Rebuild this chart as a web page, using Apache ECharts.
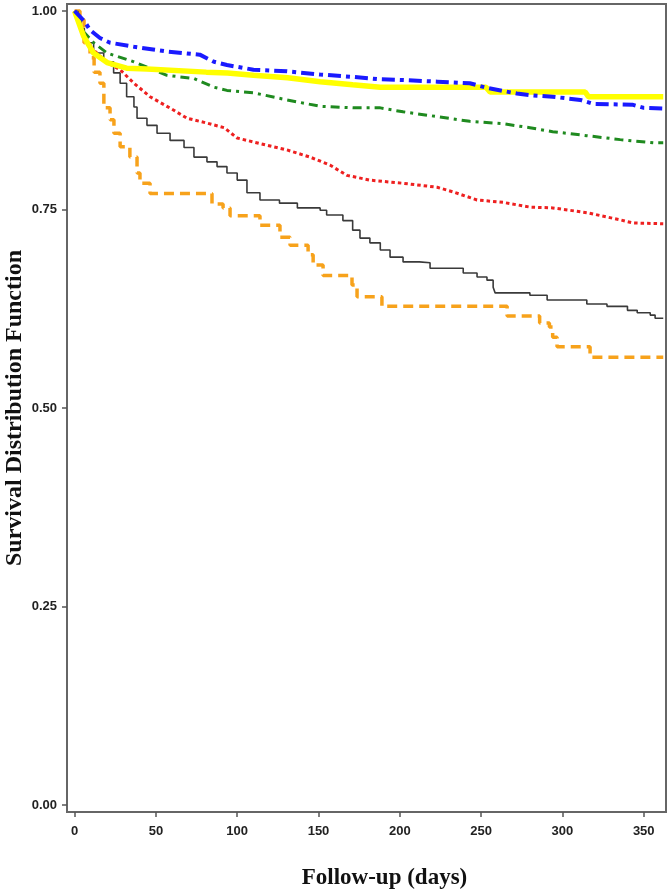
<!DOCTYPE html>
<html>
<head>
<meta charset="utf-8">
<script src="https://cdn.jsdelivr.net/npm/echarts@6/dist/echarts.min.js"></script>
<style>
html,body{margin:0;padding:0;background:#fff;}
#chart{width:669px;height:890px;}
</style>
</head>
<body>
<div id="chart"></div>
<script>
// ---- data ----
var xTicks = [0, 50, 100, 150, 200, 250, 300, 350];
var yTicks = [0, 0.25, 0.5, 0.75, 1.0];

var blueDays = [0, 6.4, 9.5, 15.6, 21.8, 36.5, 56.8, 77, 85.7, 93.7, 110, 130.6, 151, 171, 188, 202, 223, 243, 254, 272, 280, 294, 311, 319, 343, 350, 362];
var blueVals = [1.0, 0.986, 0.976, 0.966, 0.960, 0.955, 0.949, 0.945, 0.936, 0.932, 0.926, 0.924, 0.920, 0.917, 0.914, 0.913, 0.911, 0.909, 0.903, 0.896, 0.894, 0.892, 0.888, 0.883, 0.882, 0.878, 0.877];

var yellowDays = [0, 5.6, 11.7, 20, 32, 44.5, 81, 94, 110, 131, 151, 171, 188, 253, 255.5, 314, 316, 362];
var yellowVals = [1.0, 0.968, 0.947, 0.935, 0.928, 0.927, 0.923, 0.922, 0.919, 0.916, 0.911, 0.907, 0.904, 0.904, 0.898, 0.898, 0.892, 0.892];

var greenDays = [0, 5, 11.7, 20, 36.5, 56.8, 73.4, 85.7, 93.7, 110, 130.6, 151, 171, 188, 202, 223, 243, 263.5, 280, 294, 315, 335.5, 356, 362];
var greenVals = [1.0, 0.975, 0.960, 0.947, 0.936, 0.919, 0.915, 0.904, 0.900, 0.897, 0.888, 0.880, 0.878, 0.878, 0.873, 0.867, 0.861, 0.858, 0.853, 0.848, 0.843, 0.838, 0.834, 0.834];

var redDays = [0, 4, 9.5, 20, 28, 36.5, 46.4, 61, 69, 81, 92, 100, 110, 130.6, 144.8, 157, 167.5, 181.6, 202, 223, 233, 247.5, 263.5, 280, 294, 315, 335.5, 343.5, 362];
var redVals = [1.0, 0.975, 0.955, 0.935, 0.926, 0.909, 0.892, 0.875, 0.865, 0.859, 0.853, 0.840, 0.835, 0.825, 0.816, 0.806, 0.793, 0.787, 0.783, 0.778, 0.772, 0.762, 0.759, 0.753, 0.752, 0.746, 0.737, 0.733, 0.732];

var grayDays = [0, 2, 4, 6, 7.6, 11.7, 17.9, 24, 28, 32, 36.5, 38.4, 44.5, 50.7, 58.7, 67.3, 73.4, 81.4, 87.6, 93.7, 100, 106, 114, 126, 137, 151, 155, 165, 171, 175.5, 181.6, 188, 194, 202, 212, 218.6, 239, 247.5, 253.6, 257.4, 258.6, 280, 290.6, 315, 327.4, 340, 346, 354, 357, 362];
var grayVals = [1.0, 0.99, 0.978, 0.968, 0.960, 0.947, 0.936, 0.922, 0.909, 0.892, 0.879, 0.865, 0.856, 0.846, 0.837, 0.828, 0.816, 0.810, 0.804, 0.796, 0.787, 0.771, 0.762, 0.758, 0.752, 0.749, 0.743, 0.736, 0.724, 0.714, 0.708, 0.699, 0.690, 0.684, 0.683, 0.676, 0.670, 0.665, 0.661, 0.652, 0.645, 0.642, 0.636, 0.631, 0.628, 0.623, 0.620, 0.617, 0.613, 0.613];

var orangeDays = [0, 3.3, 5.8, 9.5, 12, 15.6, 18, 21.8, 24.2, 28, 34, 38.4, 40.2, 46.4, 84.5, 91.3, 95.6, 114, 126.3, 132.5, 143.6, 146.7, 152.8, 170.6, 173.7, 189, 266, 286, 292, 294, 296.7, 317, 362];
var orangeVals = [1.0, 0.989, 0.960, 0.941, 0.923, 0.909, 0.878, 0.863, 0.846, 0.829, 0.816, 0.796, 0.783, 0.770, 0.757, 0.752, 0.742, 0.730, 0.715, 0.705, 0.693, 0.680, 0.667, 0.655, 0.640, 0.628, 0.616, 0.607, 0.602, 0.589, 0.577, 0.564, 0.564];

function pairs(xs, ys) {
  var out = [];
  for (var i = 0; i < xs.length; i++) out.push([xs[i], ys[i]]);
  return out;
}

var chart = echarts.init(document.getElementById('chart'), null, {renderer: 'canvas'});

var labelStyle = {
  fontFamily: 'Liberation Sans, Arial, sans-serif',
  fontWeight: 'bold',
  fontSize: 13,
  color: '#222'
};

chart.setOption({
  animation: false,
  backgroundColor: '#ffffff',
  grid: {
    left: 67, right: 3, top: 4, bottom: 78,
    containLabel: false,
    outerBoundsMode: 'none',
    show: true, borderColor: '#666', borderWidth: 2, backgroundColor: 'transparent'
  },
  xAxis: {
    type: 'value',
    min: -4.67,
    max: 363.7,
    name: 'Follow-up (days)',
    nameLocation: 'middle',
    nameGap: 55,
    nameMoveOverlap: false,
    nameTextStyle: {
      fontFamily: 'Liberation Serif, Times New Roman, serif',
      fontWeight: 'bold',
      fontSize: 23,
      color: '#111',
      padding: [0, 0, 0, 36]
    },
    axisLine: {show: true, onZero: false, lineStyle: {color: '#666', width: 2}},
    axisTick: {show: true, inside: false, length: 5, customValues: xTicks, lineStyle: {color: '#555', width: 1.5}},
    axisLabel: Object.assign({margin: 13, customValues: xTicks}, labelStyle),
    splitLine: {show: false}
  },
  yAxis: {
    type: 'value',
    min: -0.0088,
    max: 1.0088,
    name: 'Survival Distribution Function',
    nameLocation: 'middle',
    nameGap: 40,
    nameMoveOverlap: false,
    nameRotate: 90,
    nameTextStyle: {
      fontFamily: 'Liberation Serif, Times New Roman, serif',
      fontWeight: 'bold',
      fontSize: 24,
      color: '#111'
    },
    axisLine: {show: true, onZero: false, lineStyle: {color: '#666', width: 2}},
    axisTick: {show: true, inside: false, length: 5, customValues: yTicks, lineStyle: {color: '#555', width: 1.5}},
    axisLabel: Object.assign({
      margin: 10,
      customValues: yTicks,
      formatter: function (v) { return v.toFixed(2); }
    }, labelStyle),
    splitLine: {show: false}
  },
  series: [
    {
      name: 'orange', type: 'line', step: 'end', showSymbol: false, symbol: 'none',
      data: pairs(orangeDays, orangeVals),
      lineStyle: {color: '#f7a21b', width: 3.5, type: [10, 6]}
    },
    {
      name: 'gray', type: 'line', step: 'end', showSymbol: false, symbol: 'none',
      data: pairs(grayDays, grayVals),
      lineStyle: {color: '#3a3a3a', width: 1.6, type: 'solid'}
    },
    {
      name: 'red', type: 'line', showSymbol: false, symbol: 'none',
      data: pairs(redDays, redVals),
      lineStyle: {color: '#ee2020', width: 3, type: [3.5, 3]}
    },
    {
      name: 'green', type: 'line', showSymbol: false, symbol: 'none',
      data: pairs(greenDays, greenVals),
      lineStyle: {color: '#1f8a1f', width: 3, type: [9, 5, 3, 5]}
    },
    {
      name: 'yellow', type: 'line', showSymbol: false, symbol: 'none',
      data: pairs(yellowDays, yellowVals),
      lineStyle: {color: '#ffff00', width: 5.5, type: 'solid'}
    },
    {
      name: 'blue', type: 'line', showSymbol: false, symbol: 'none',
      data: pairs(blueDays, blueVals),
      lineStyle: {color: '#1a1aff', width: 4, type: [13, 5, 4, 5]}
    }
  ]
});
</script>
</body>
</html>
